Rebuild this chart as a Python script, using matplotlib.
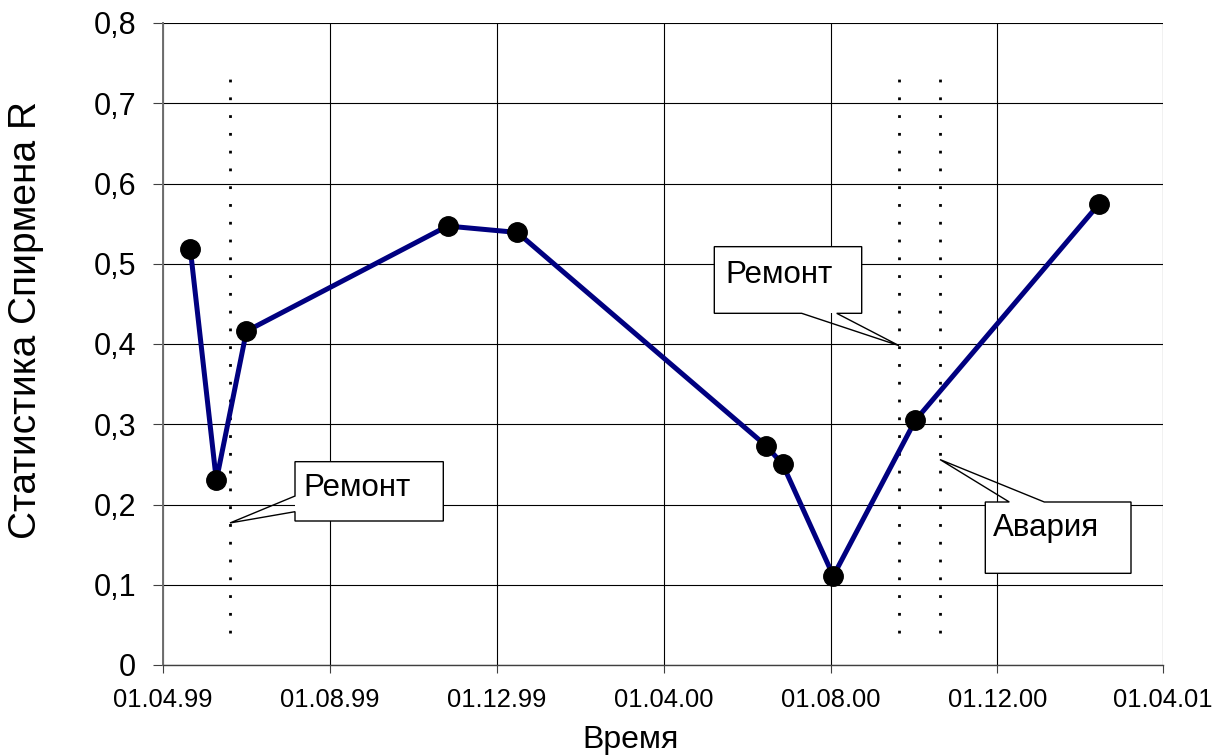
import matplotlib
matplotlib.use('Agg')
import matplotlib.pyplot as plt
import matplotlib.dates as mdates
from matplotlib.patches import Rectangle, Polygon
import datetime as dt

# ---- data ----
obs_dates = ['1999-04-21', '1999-05-10', '1999-06-01', '1999-10-26', '1999-12-16',
             '2000-06-15', '2000-06-27', '2000-08-03', '2000-10-02', '2001-02-13']
spearman_r = [0.518, 0.230, 0.416, 0.547, 0.539, 0.273, 0.250, 0.111, 0.305, 0.574]

event_dates = ['1999-05-20', '2000-09-20', '2000-10-20']
event_labels = ['Ремонт', 'Ремонт', 'Авария']

x_tick_dates = ['1999-04-01', '1999-08-01', '1999-12-01', '2000-04-01',
                '2000-08-01', '2000-12-01', '2001-04-01']
x_tick_labels = ['01.04.99', '01.08.99', '01.12.99', '01.04.00',
                 '01.08.00', '01.12.00', '01.04.01']
y_ticks = [0, 0.1, 0.2, 0.3, 0.4, 0.5, 0.6, 0.7, 0.8]
y_tick_labels = ['0', '0,1', '0,2', '0,3', '0,4', '0,5', '0,6', '0,7', '0,8']

x_label = 'Время'
y_label = 'Статистика Спирмена R'

to_date = lambda s: dt.datetime.strptime(s, '%Y-%m-%d')

plt.rcParams['font.family'] = ['Liberation Sans', 'DejaVu Sans']

fig = plt.figure(figsize=(12.25, 7.55), dpi=100)
ax = fig.add_axes([163 / 1225, 1 - 665 / 755, 1000 / 1225, 642 / 755])

xd = [to_date(s) for s in obs_dates]
ax.plot(xd, spearman_r, color='#000080', lw=3.6, zorder=3,
        marker='o', markersize=14, markerfacecolor='black',
        markeredgecolor='black', solid_joinstyle='round')

ax.set_xlim(to_date(x_tick_dates[0]), to_date(x_tick_dates[-1]))
ax.set_ylim(y_ticks[0], y_ticks[-1])
ax.set_xticks([to_date(s) for s in x_tick_dates])
ax.set_xticklabels(x_tick_labels)
ax.set_yticks(y_ticks)
ax.set_yticklabels(y_tick_labels)

ax.grid(True, color='black', lw=0.8, zorder=1)
ax.set_axisbelow(True)
for s in ['top', 'right']:
    ax.spines[s].set_visible(False)
ax.spines['left'].set_color('#707070')
ax.spines['left'].set_linewidth(1.4)
ax.spines['bottom'].set_color('#404040')
ax.spines['bottom'].set_linewidth(1.0)

ax.tick_params(axis='y', direction='out', length=7.2, width=0.8, pad=12,
               labelsize=22, color='#404040')
ax.tick_params(axis='x', direction='out', length=5.8, width=0.8, pad=11,
               labelsize=18.4, color='#404040')

# dotted event lines
for ed in event_dates:
    ax.plot([to_date(ed), to_date(ed)], [0.04, 0.731], color='black',
            lw=2.0, dashes=(1, 5.4), zorder=2)

fig.text(631 / 1225, 1 - 740 / 755, x_label, ha='center', va='center', fontsize=23)
fig.text(26 / 1225, 1 - 320 / 755, y_label, ha='center', va='center',
         rotation=90, fontsize=28)

# ---- callouts ----
def tip_axes(date_str, yv):
    p = ax.transData.transform((mdates.date2num(to_date(date_str)), yv))
    return ax.transAxes.inverted().transform(p)

def callout(label, box, tip, side, base, text_xy):
    x0, x1, y0, y1 = box
    ax.add_patch(Rectangle((x0, y0), x1 - x0, y1 - y0, transform=ax.transAxes,
                           facecolor='white', edgecolor='none', zorder=5,
                           clip_on=False))
    b1, b2 = base
    if side == 'left':
        pts = [(x0, y1), (x1, y1), (x1, y0), (x0, y0), (x0, b1), tuple(tip),
               (x0, b2)]
    elif side == 'bottom':
        pts = [(x0, y1), (x1, y1), (x1, y0), (b2, y0), tuple(tip), (b1, y0),
               (x0, y0)]
    else:  # top
        pts = [(x0, y1), (b1, y1), tuple(tip), (b2, y1), (x1, y1), (x1, y0),
               (x0, y0)]
    ax.add_patch(Polygon(pts, closed=True, transform=ax.transAxes, fill=False,
                         edgecolor='black', lw=1.0, zorder=6, clip_on=False,
                         joinstyle='miter'))
    ax.text(text_xy[0], text_xy[1], label, transform=ax.transAxes, ha='left',
            va='top', fontsize=22.5, zorder=7)

callout(event_labels[0], (0.132, 0.2803, 0.2243, 0.3167),
        tip_axes(event_dates[0], 0.177), 'left', (0.2388, 0.2632), (0.140, 0.299))
callout(event_labels[1], (0.5513, 0.6987, 0.5478, 0.6516),
        tip_axes(event_dates[1], 0.398), 'bottom', (0.6387, 0.6737), (0.562, 0.631))
callout(event_labels[2], (0.8223, 0.968, 0.1428, 0.2539),
        tip_axes(event_dates[2], 0.256), 'top', (0.8463, 0.8813), (0.830, 0.2368))

fig.savefig('out.png', dpi=100)
